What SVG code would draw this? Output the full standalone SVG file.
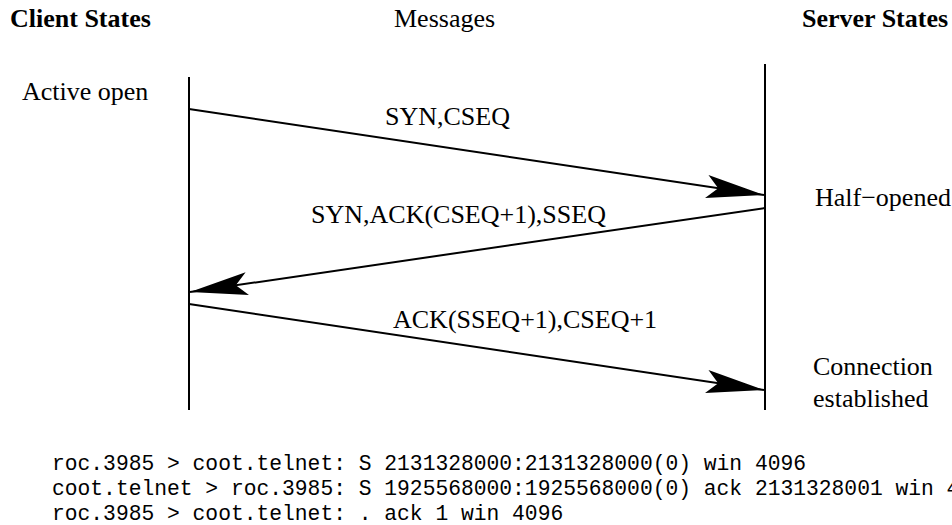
<svg xmlns="http://www.w3.org/2000/svg" width="952" height="525" viewBox="0 0 952 525">
<style>
.t{font-family:"Liberation Serif","Times New Roman",serif;font-size:26px;fill:#000}
.b{font-weight:bold}
.m{font-family:"Liberation Mono","Courier New",monospace;font-size:21.3px;fill:#000}
.ln{stroke:#000;stroke-width:2;fill:none}
</style>
<defs>
<marker id="ah" markerUnits="userSpaceOnUse" markerWidth="60" markerHeight="30" refX="0" refY="0" viewBox="-56 -12 57 24" orient="auto" overflow="visible">
<path d="M0,0 L-55,-11 L-44,0 L-55,11 Z" fill="#000"/>
</marker>
</defs>
<g id="headers">
<text class="t b" x="10" y="27">Client States</text>
<text class="t" x="394" y="27">Messages</text>
<text class="t b" x="802" y="27">Server States</text>
</g>
<g id="client">
<line class="ln" x1="189" y1="77" x2="189" y2="410"/>
<text class="t" x="22" y="100">Active open</text>
</g>
<g id="server">
<line class="ln" x1="765" y1="64" x2="765" y2="410"/>
<text class="t" x="815" y="206">Half−opened</text>
<text class="t" x="813" y="375">Connection</text>
<text class="t" x="813" y="407">established</text>
</g>
<g id="connectors">
<line class="ln" x1="189" y1="109" x2="764" y2="195" marker-end="url(#ah)"/>
<line class="ln" x1="765" y1="208" x2="190" y2="292" marker-end="url(#ah)"/>
<line class="ln" x1="189" y1="304" x2="764" y2="390" marker-end="url(#ah)"/>
<text class="t" x="385" y="125">SYN,CSEQ</text>
<text class="t" x="311" y="223">SYN,ACK(CSEQ+1),SSEQ</text>
<text class="t" x="393" y="328">ACK(SSEQ+1),CSEQ+1</text>
</g>
<g id="trace">
<text class="m" x="52" y="470">roc.3985 &gt; coot.telnet: S 2131328000:2131328000(0) win 4096</text>
<text class="m" x="52" y="495">coot.telnet &gt; roc.3985: S 1925568000:1925568000(0) ack 2131328001 win 4096</text>
<text class="m" x="52" y="520">roc.3985 &gt; coot.telnet: . ack 1 win 4096</text>
</g>
</svg>
